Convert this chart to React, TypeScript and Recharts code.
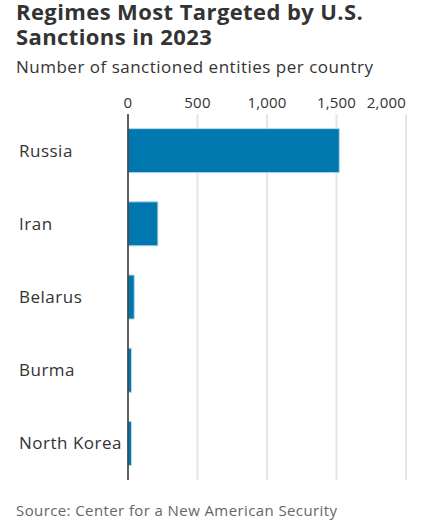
import * as React from 'react';
import { Bar, BarChart, CartesianGrid, XAxis, YAxis } from 'recharts';

// Values
const countries = ['Russia', 'Iran', 'Belarus', 'Burma', 'North Korea'];
const entities = [1520, 215, 45, 25, 25];
const xTicks = [0, 500, 1000, 1500, 2000];

const data = countries.map((country, i) => ({ country, entities: entities[i] }));

const FONT = '"Open Sans", "Noto Sans", sans-serif';
const TEXT = '#333333';

const formatTick = (v: number) => v.toLocaleString('en-US');

// top axis tick: the last label is pulled inside the plot
const ValueTick = (props: any) => {
  const { x, y, payload, index } = props;
  const last = index === xTicks.length - 1;
  return (
    <text
      x={x}
      y={y}
      dy={2}
      textAnchor={last ? 'end' : 'middle'}
      fill={TEXT}
      fontSize={15}
      fontFamily={FONT}
      letterSpacing={0.2}
    >
      {formatTick(payload.value)}
    </text>
  );
};

const CountryTick = (props: any) => {
  const { y, payload } = props;
  return (
    <text
      x={19}
      y={y}
      dy="0.35em"
      textAnchor="start"
      fill={TEXT}
      fontSize={17}
      fontFamily={FONT}
      letterSpacing={0.5}
    >
      {payload.value}
    </text>
  );
};

const titleLine: React.CSSProperties = {
  position: 'absolute',
  left: 16,
  fontFamily: FONT,
  fontWeight: 700,
  fontSize: 22,
  lineHeight: '23px',
  letterSpacing: 0.4,
  color: TEXT,
  whiteSpace: 'nowrap',
};

export default function App() {
  return (
    <div style={{ position: 'absolute', left: 0, top: 0, width: 429, height: 523, background: '#fff' }}>
      <div style={{ ...titleLine, top: 0 }}>Regimes Most Targeted by U.S.</div>
      <div style={{ ...titleLine, top: 25 }}>Sanctions in 2023</div>
      <div
        style={{
          position: 'absolute',
          left: 16,
          top: 56,
          fontFamily: FONT,
          fontSize: 17,
          lineHeight: '22px',
          letterSpacing: 0.5,
          color: TEXT,
          whiteSpace: 'nowrap',
        }}
      >
        Number of sanctioned entities per country
      </div>

      <div style={{ position: 'absolute', left: 0, top: 0 }}>
        <BarChart
          width={429}
          height={523}
          data={data}
          layout="vertical"
          margin={{ top: 84, right: 23, bottom: 43, left: 0 }}
          barCategoryGap="20%"
        >
          <CartesianGrid horizontal={false} stroke="#e6e6e6" strokeWidth={2} />
          <XAxis
            type="number"
            orientation="top"
            domain={[0, 2000]}
            ticks={xTicks}
            height={30}
            axisLine={false}
            tickLine={false}
            tick={<ValueTick />}
            interval={0}
          />
          <YAxis
            type="category"
            dataKey="country"
            width={128}
            axisLine={{ stroke: '#333333', strokeWidth: 1.5 }}
            tickLine={false}
            tick={<CountryTick />}
            interval={0}
          />
          <Bar
            dataKey="entities"
            fill="#0077ae"
            stroke="#b7d6e9"
            strokeWidth={1}
            isAnimationActive={false}
          />
        </BarChart>
      </div>

      <div
        style={{
          position: 'absolute',
          left: 16,
          top: 500,
          fontFamily: FONT,
          fontSize: 15,
          lineHeight: '20px',
          letterSpacing: 0.4,
          color: '#666666',
          whiteSpace: 'nowrap',
        }}
      >
        Source: Center for a New American Security
      </div>
    </div>
  );
}
